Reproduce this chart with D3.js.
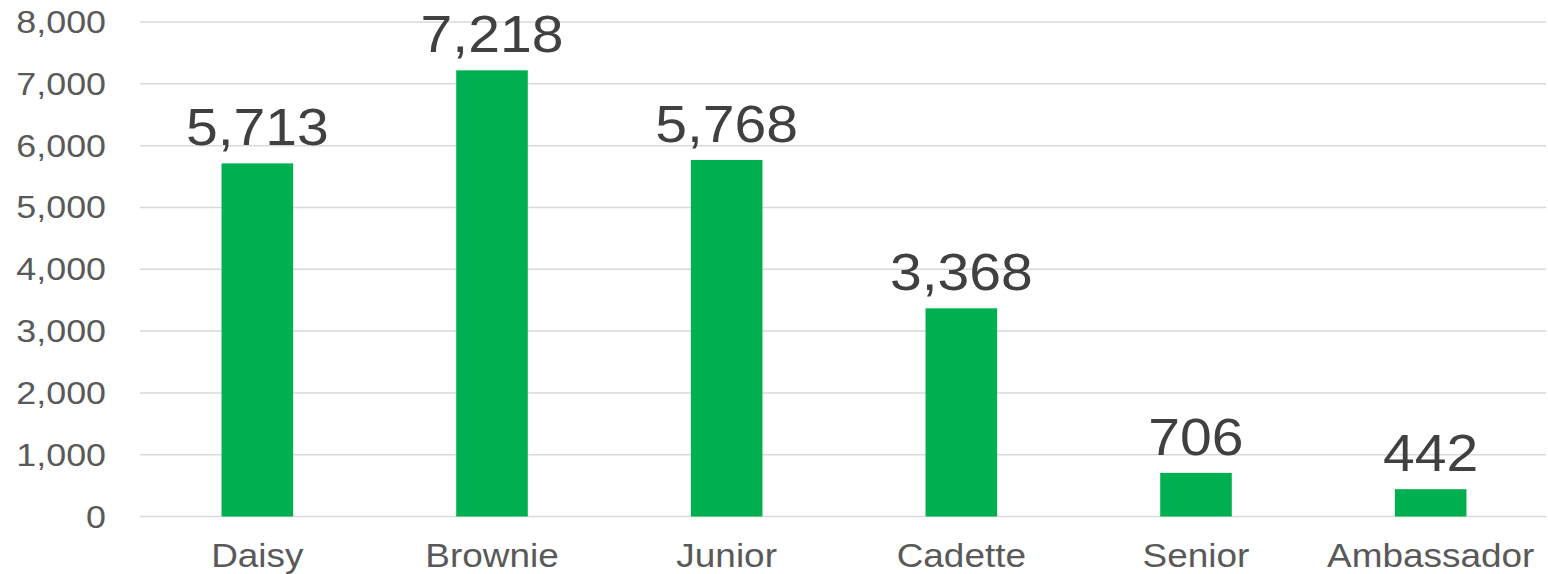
<!DOCTYPE html>
<html>
<head>
<meta charset="utf-8">
<script src="https://cdn.jsdelivr.net/npm/d3@7"></script>
<style>
  body { margin: 0; background: #fff; }
  text { font-family: "Liberation Sans", Arial, sans-serif; }
</style>
</head>
<body>
<div id="chart"></div>
<script>
const width = 1548;
const height = 574;

// data
const categories = ["Daisy", "Brownie", "Junior", "Cadette", "Senior", "Ambassador"];
const values = [5713, 7218, 5768, 3368, 706, 442];
const yTicks = [0, 1000, 2000, 3000, 4000, 5000, 6000, 7000, 8000];

const plot = { left: 140, right: 1548, top: 22, bottom: 516.5 };
const stretch = 1.12; // text in the reference is a bit wide

const svg = d3.select("#chart")
    .append("svg")
    .attr("width", width)
    .attr("height", height);

const x = d3.scaleBand(categories, [plot.left, plot.right])
    .paddingInner(0.695)
    .paddingOuter(0.3475);
const y = d3.scaleLinear([0, 8000], [plot.bottom, plot.top]);
const fmt = d3.format(",");

// gridlines
svg.selectAll(".grid")
    .data(yTicks)
    .join("line")
    .attr("x1", plot.left)
    .attr("x2", plot.right - 2)
    .attr("y1", d => y(d))
    .attr("y2", d => y(d))
    .attr("stroke", "#d9d9d9")
    .attr("stroke-width", 1.5);

// y tick labels
svg.selectAll(".ytick")
    .data(yTicks)
    .join("text")
    .attr("transform", d => `translate(106,${y(d) + 11}) scale(${stretch},1)`)
    .attr("text-anchor", "end")
    .attr("font-size", 32)
    .attr("fill", "#595959")
    .text(d => fmt(d));

// bars
svg.selectAll(".bar")
    .data(values)
    .join("rect")
    .attr("x", (d, i) => x(categories[i]))
    .attr("width", x.bandwidth())
    .attr("y", d => y(d))
    .attr("height", d => y(0) - y(d))
    .attr("fill", "#00af50");

// data labels
svg.selectAll(".val")
    .data(values)
    .join("text")
    .attr("transform", (d, i) => `translate(${x(categories[i]) + x.bandwidth() / 2},${y(d) - 18}) scale(${stretch},1)`)
    .attr("text-anchor", "middle")
    .attr("font-size", 51)
    .attr("fill", "#404040")
    .text(d => fmt(d));

// category labels
svg.selectAll(".cat")
    .data(categories)
    .join("text")
    .attr("transform", d => `translate(${x(d) + x.bandwidth() / 2},567) scale(${stretch},1)`)
    .attr("text-anchor", "middle")
    .attr("font-size", 33)
    .attr("fill", "#595959")
    .text(d => d);
</script>
</body>
</html>
